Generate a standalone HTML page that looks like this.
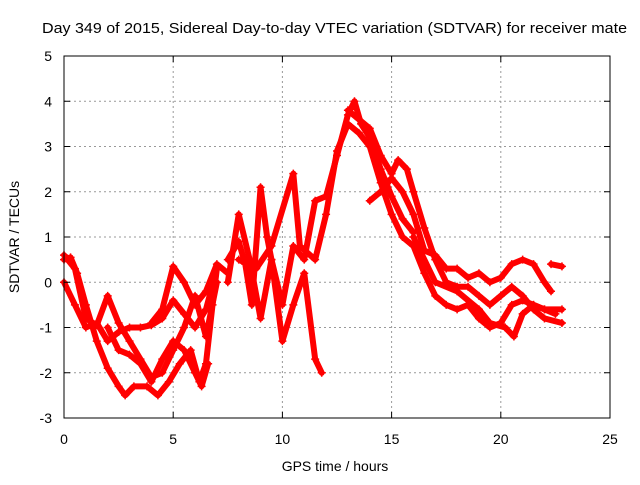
<!DOCTYPE html>
<html><head><meta charset="utf-8"><style>
body{margin:0;background:#fff;}
svg text{font-family:"Liberation Sans",sans-serif;font-size:14px;fill:#000;}
</style></head><body>
<svg id="chart" width="640" height="480" xmlns="http://www.w3.org/2000/svg">
<rect width="640" height="480" fill="#fff"/>
<text x="42" y="33" textLength="585" lengthAdjust="spacingAndGlyphs" style="font-size:15px">Day 349 of 2015, Sidereal Day-to-day VTEC variation (SDTVAR) for receiver mate</text>
<g id="grid"></g>
<g id="marks"></g>
<rect x="64" y="56" width="546" height="362" fill="none" stroke="#000" stroke-width="1"/>
<g id="axes"></g>
<text x="335" y="471" text-anchor="middle">GPS time / hours</text>
<text transform="translate(19,237) rotate(-90)" text-anchor="middle">SDTVAR / TECUs</text>
</svg>
<script>
const xTicks=[0,5,10,15,20,25];
const yTicks=[-3,-2,-1,0,1,2,3,4,5];
const trace1=[[0,0.5],[0.3,0.55],[0.6,0.2],[1,-0.5],[1.5,-1.3],[2,-1.9],[2.5,-2.3],[2.8,-2.5],[3.2,-2.3],[3.8,-2.3],[4.3,-2.5],[4.8,-2.2],[5.3,-1.8],[5.8,-1.5],[6.2,-2.2],[6.5,-1.8],[6.8,-0.5],[7.0,0.3]];
const trace2=[[0,0],[0.5,-0.5],[1,-1],[1.5,-0.9],[2,-1.3],[2.5,-1.1],[3,-1.0],[3.5,-1.0],[4,-0.95],[4.5,-0.8],[5,-0.4],[5.5,-0.7],[6,-1.0],[6.5,-0.6],[7,0.3]];
const trace3=[[0,0.6],[0.5,0.3],[1,-0.8],[1.5,-0.95],[2,-0.3],[2.5,-0.9],[3,-1.3],[3.5,-1.7],[4,-2.1],[4.5,-2.0],[5,-1.5],[5.5,-1.0],[6,-0.3],[6.5,-1.2],[7,0]];
const trace4=[[2,-1.0],[2.5,-1.5],[3,-1.6],[3.5,-1.8],[4,-2.2],[4.5,-1.7],[5,-1.3],[5.5,-1.5],[6,-2.0],[6.3,-2.3],[6.6,-1.8]];
const trace5=[[4,-0.9],[4.5,-0.6],[5,0.35],[5.5,0.0],[6,-0.5],[6.5,-0.2],[7,0.4],[7.5,0.2]];
const trace6=[[7.5,0.5],[8,0.9],[8.3,0.4],[8.6,-0.5],[9,2.1],[9.3,1.0],[9.5,0.5],[10,-0.5],[10.5,0.8],[11,0.5],[11.5,1.8],[12,1.9],[12.5,2.8],[13,3.7],[13.3,4.0],[13.6,3.5],[14,3.2],[14.5,2.5],[15,1.9],[15.5,1.4],[16,1.1]];
const trace7=[[7.5,0],[8,1.5],[8.5,0.5],[9,-0.8],[9.5,0.5],[10,-1.3],[10.5,-0.5],[11,0.2],[11.5,-1.7],[11.8,-2.0]];
const trace8=[[8,0.5],[8.8,0.3],[9.5,0.8],[10.5,2.4],[10.8,0.8],[11.5,0.5],[12,1.5],[12.5,2.9],[13,3.5],[13.5,3.3],[14,3.0],[14.5,2.2],[15,1.5],[15.5,1.0],[16,0.8],[16.5,0.2],[17,-0.3],[17.5,-0.5],[18,-0.6],[18.5,-0.5],[19,-0.8],[19.5,-1.0],[20,-0.9],[20.5,-0.5],[21,-0.4],[21.5,-0.5],[22,-0.6],[22.8,-0.6]];
const trace9=[[13,3.8],[13.5,3.6],[14,3.4],[14.5,2.8],[15,2.4],[15.3,2.7],[15.7,2.5],[16,2.0],[16.5,1.2],[17,0.5],[17.5,0.0],[18,-0.1],[18.5,-0.1],[19,-0.3],[19.5,-0.5],[20,-0.3],[20.5,-0.1],[21,-0.3],[21.5,-0.6],[22,-0.8],[22.8,-0.9]];
const trace10=[[14,1.8],[14.5,2.0],[15,2.3],[15.5,2.0],[16,1.5],[16.5,0.7],[17,0.6],[17.5,0.3],[18,0.3],[18.5,0.1],[19,0.2],[19.5,0.0],[20,0.1],[20.5,0.4],[21,0.5],[21.5,0.4],[22,0],[22.3,-0.2]];
const trace11=[[16,1.0],[17,0.0],[18,-0.2],[19,-0.6],[19.5,-0.9],[20.2,-1.0],[20.6,-1.2],[21,-0.7],[21.5,-0.5],[22,-0.6],[22.5,-0.7]];
const trace12=[[22.3,0.4],[22.8,0.35]];
const traces=[trace1,trace2,trace3,trace4,trace5,trace6,trace7,trace8,trace9,trace10,trace11,trace12];

const X0=64,X1=610,Y0=418,Y1=56;
function xs(v){return X0+(v-0)/(25-0)*(X1-X0);}
function ys(v){return Y0-(v-(-3))/(5-(-3))*(Y0-Y1);}
const NS="http://www.w3.org/2000/svg";
function mk(t,a,p){const e=document.createElementNS(NS,t);for(const k in a)e.setAttribute(k,a[k]);p.appendChild(e);return e;}
const grid=document.getElementById('grid'),axes=document.getElementById('axes'),marks=document.getElementById('marks');
xTicks.forEach(t=>{
  const x=xs(t);
  if(t>0&&t<25){const g=mk('line',{x1:x,x2:x,y1:Y0,y2:Y1,stroke:'#999','stroke-dasharray':'2,3'},grid);
  
  }
  mk('line',{x1:x,x2:x,y1:Y0,y2:Y0-6,stroke:'#000'},axes);
  mk('line',{x1:x,x2:x,y1:Y1,y2:Y1+6,stroke:'#000'},axes);
  const l=mk('text',{x:x,y:Y0+26,'text-anchor':'middle'},axes);l.textContent=t;
  
  
});
yTicks.forEach(t=>{
  const y=ys(t);
  if(t>-3&&t<5){const g=mk('line',{x1:X0,x2:X1,y1:y,y2:y,stroke:'#999','stroke-dasharray':'2,3'},grid);
  
  }
  mk('line',{x1:X0,x2:X0+6,y1:y,y2:y,stroke:'#000'},axes);
  mk('line',{x1:X1,x2:X1-6,y1:y,y2:y,stroke:'#000'},axes);
  const l=mk('text',{x:X0-12,y:y+5,'text-anchor':'end'},axes);l.textContent=t;
  
  
});
traces.forEach((tr,i)=>{
  const pl=mk('polyline',{points:tr.map(p=>xs(p[0])+','+ys(p[1])).join(' '),fill:'none',stroke:'#f00','stroke-width':6,'stroke-linejoin':'round','stroke-linecap':'round'},marks);
  
  
  tr.forEach(p=>{
    const x=xs(p[0]),y=ys(p[1]);
    const m=mk('path',{d:`M${x-4},${y}H${x+4}M${x},${y-4}V${y+4}`,stroke:'#f00','stroke-width':1.5},marks);
    
    
  });
});
</script>
</body></html>
